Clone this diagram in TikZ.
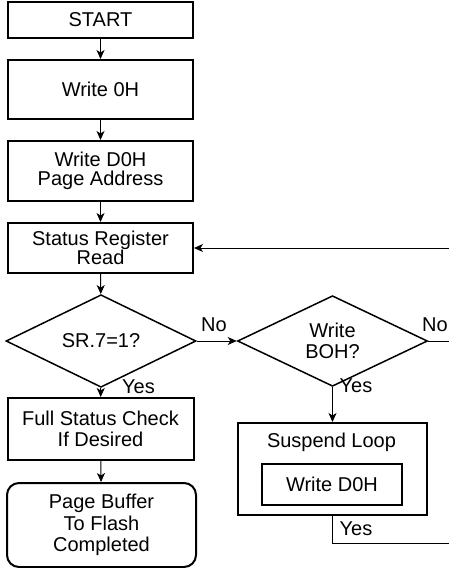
\documentclass[tikz,border=0pt]{standalone}
\usepackage{fontspec}
\setmainfont{Liberation Sans}
\usetikzlibrary{shapes.geometric,arrows.meta}

\begin{document}
\begin{tikzpicture}[x=1pt,y=-1pt,
    every node/.style={font=\fontsize{20}{18.5}\selectfont},
    wide/.style={font=\fontsize{20}{21.5}\selectfont},
    box/.style={draw, line width=2pt, align=center, inner sep=0pt},
    decide/.style={diamond, draw, line width=1.5pt, align=center, inner sep=0pt,
        minimum width=190pt, minimum height=74pt},
    flow/.style={-{Stealth[length=9pt,width=8pt,inset=2.5pt]}, line width=1pt},
    lbl/.style={inner sep=0pt}]
    \useasboundingbox (0,0) rectangle (449,568);
    % left column
    \node[box, minimum width=185pt, minimum height=36pt] (start) at (100.5,20) {START};
    \node[box, minimum width=185pt, minimum height=59pt] (w0) at (100.5,89.5) {Write 0H};
    \node[box, minimum width=185pt, minimum height=60pt] (wd0) at (100.5,171) {Write D0H\\Page Address};
    \node[box, minimum width=185pt, minimum height=50pt] (srr) at (100.5,248) {Status Register\\Read};
    \node[decide] (sr7) at (101,341) {SR.7=1?};
    \node[box, wide, minimum width=186pt, minimum height=62pt] (fsc) at (100.5,429) {Full Status Check\\If Desired};
    \node[box, wide, rounded corners=12pt, minimum width=189pt, minimum height=84pt] (done) at (101.5,525) {Page Buffer\\To Flash\\Completed};
    % right column
    \node[decide, wide] (wboh) at (332.5,341) {Write\\BOH?};
    \node[box, minimum width=189pt, minimum height=92pt] (loop) at (332.5,469) {};
    \node[lbl] (looptxt) at (331.5,442.5) {Suspend Loop};
    \node[box, minimum width=140pt, minimum height=41pt] (wd0b) at (332,484.5) {Write D0H};
    % free ends at the right edge
    \coordinate (backin) at (449,248);
    \coordinate (noend) at (449,341);
    \coordinate (yesend) at (449,543);
    % connectors
    \draw[flow] (start) -- (w0);
    \draw[flow] (w0) -- (wd0);
    \draw[flow] (wd0) -- (srr);
    \draw[flow] (srr) -- (sr7);
    \draw[flow] (sr7) -- (fsc);
    \draw[flow] (fsc) -- (done);
    \draw[flow] (sr7.east) -- (wboh.west);
    \draw[line width=1pt] (wboh.east) -- (noend);
    \draw[flow] (wboh) -- (loop);
    \draw[line width=1pt] (loop.south) -- (loop.south |- yesend) -- (yesend);
    \draw[flow] (backin) -- (srr.east);
    % labels
    \node[lbl] (no1) at (214,324.5) {No};
    \node[lbl] (no2) at (435,324.5) {No};
    \node[lbl] (yes1) at (138.5,386.5) {Yes};
    \node[lbl] (yes2) at (356,386) {Yes};
    \node[lbl] (yes3) at (356,528.5) {Yes};
\end{tikzpicture}
\end{document}
